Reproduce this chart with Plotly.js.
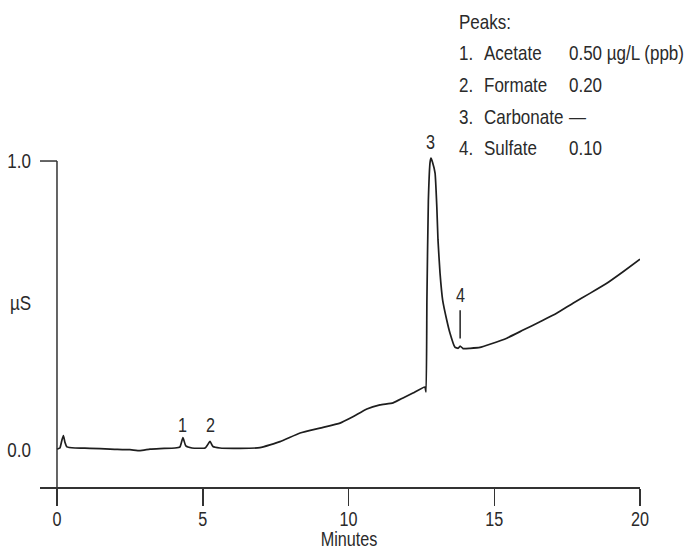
<!DOCTYPE html>
<html><head><meta charset="utf-8">
<script src="https://cdn.plot.ly/plotly-3.0.1.min.js"></script>
<style>html,body{margin:0;padding:0;background:#fff}</style>
</head><body><div id="chart" style="width:695px;height:551px"></div>
<script>
// Chromatogram trace (minutes, µS)
const timeMin = [0, 0.10, 0.17, 0.22, 0.27, 0.34, 0.62, 1.13, 1.82, 2.50, 2.85, 3.19, 3.53, 4.05, 4.22, 4.32, 4.42, 4.63,
  5.08, 5.16, 5.25, 5.35, 5.59, 6.28, 6.96, 7.65, 8.34, 9.02, 9.71, 10.15, 10.63, 11.08, 11.53, 11.87, 12.21, 12.62,
  12.66, 12.69, 12.74, 12.80, 12.83, 12.88, 12.97, 13.03, 13.07, 13.14, 13.23, 13.37, 13.48, 13.65, 13.76, 13.83,
  13.93, 14.17, 14.51, 14.85, 15.43, 15.99, 16.57, 17.14, 17.70, 18.28, 18.86, 19.42, 20.00];
const signalUS = [0.003, 0.007, 0.035, 0.050, 0.028, 0.011, 0.007, 0.006, 0.003, 0.001, -0.002, 0.003, 0.005, 0.007, 0.011, 0.043, 0.014, 0.007,
  0.007, 0.017, 0.030, 0.012, 0.007, 0.006, 0.008, 0.029, 0.059, 0.076, 0.093, 0.115, 0.142, 0.156, 0.163, 0.180, 0.197, 0.218,
  0.201, 0.519, 0.865, 0.997, 1.010, 0.997, 0.958, 0.841, 0.727, 0.612, 0.519, 0.450, 0.405, 0.356, 0.352, 0.360,
  0.351, 0.352, 0.355, 0.366, 0.387, 0.415, 0.444, 0.473, 0.508, 0.542, 0.577, 0.617, 0.660];

const xTickVals = [0, 5, 10, 15, 20];
const yTickVals = [0, 1];
const yTickText = ['0.0', '1.0'];
const xTitle = 'Minutes';
const yTitle = 'µS';

const peakNums = ['1', '2', '3', '4'];
const peakTimes = [4.32, 5.25, 12.83, 13.83];
const peakLabelY = [0.088, 0.085, 1.065, 0.535];
const legendTitle = 'Peaks:';
const legendNames = ['Acetate', 'Formate', 'Carbonate', 'Sulfate'];
const legendAmounts = ['0.50 µg/L (ppb)', '0.20', '—', '0.10'];

const W = 695, H = 551, ML = 40, MR = 55, MT = 20, MB = 64;
const PW = W - ML - MR, PH = H - MT - MB;
const px = x => (x - ML) / PW;
const py = y => (H - MB - y) / PH;

const FONT = 'Liberation Sans, Arial, sans-serif';
const TXT = '#2a2a2a';
const FS = 21;
const XR = [-0.583, 20];
const YR = [-0.128, 1.488];
const NARROW = 0.81;

const annotations = [];
peakNums.forEach((n, i) => annotations.push({
  text: n, x: peakTimes[i], y: peakLabelY[i], xref: 'x', yref: 'y',
  showarrow: false, xanchor: 'center', yanchor: 'middle', font: {family: FONT, size: 20, color: TXT}
}));
const leftText = (text, x, y, size) => ({text: text, xref: 'paper', yref: 'paper', x: x, y: y, xanchor: 'left', yanchor: 'middle',
  align: 'left', showarrow: false, font: {family: FONT, size: size, color: TXT}});
annotations.push(leftText(yTitle, px(8), py(302), FS));
annotations.push({text: xTitle, xref: 'x', yref: 'paper', x: xTickVals[2], y: py(551), xanchor: 'center', yanchor: 'bottom',
  borderpad: 0, showarrow: false, font: {family: FONT, size: 20, color: TXT}});
const rowY = [21, 52.5, 84.5, 116, 147.5];
annotations.push(leftText(legendTitle, px(457), py(rowY[0]), FS));
legendNames.forEach((nm, i) => {
  const yy = py(rowY[i + 1]);
  annotations.push(leftText(peakNums[i] + '.', px(457), yy, FS));
  annotations.push(leftText(nm, px(482), yy, FS));
  annotations.push(leftText(legendAmounts[i], px(567), yy, FS));
});

const shapes = [
  {type: 'line', xref: 'x', yref: 'y', x0: 0, x1: 0, y0: YR[0], y1: yTickVals[1], line: {color: '#333', width: 1.5}},
  {type: 'line', xref: 'x', yref: 'y', x0: XR[0], x1: 0, y0: yTickVals[1], y1: yTickVals[1], line: {color: '#333', width: 1.5}},
  {type: 'line', xref: 'x', yref: 'y', x0: peakTimes[3], x1: peakTimes[3], y0: 0.386, y1: 0.484, line: {color: '#222', width: 1.5}}
];

Plotly.newPlot('chart', [{
  x: timeMin, y: signalUS, type: 'scatter', mode: 'lines',
  line: {color: '#1e1e1e', width: 1.7, shape: 'spline', smoothing: 0.4}, hoverinfo: 'skip'
}], {
  width: W, height: H, margin: {l: ML, r: MR, t: MT, b: MB},
  paper_bgcolor: '#fff', plot_bgcolor: '#fff', showlegend: false,
  xaxis: {range: XR, tickvals: xTickVals, ticktext: xTickVals.map(String), ticks: 'outside', ticklen: 17, tickwidth: 1.5,
    tickcolor: '#333', showline: true, linecolor: '#333', linewidth: 1.5, showgrid: false, zeroline: false,
    ticklabelstandoff: -3, tickfont: {family: FONT, size: 20, color: TXT}},
  yaxis: {range: YR, tickvals: yTickVals, ticktext: yTickText, ticks: '', showline: false, showgrid: false, zeroline: false,
    ticklabelstandoff: 8, tickfont: {family: FONT, size: FS, color: TXT}},
  annotations: annotations, shapes: shapes
}, {staticPlot: true}).then(gd => {
  // condensed lettering like the original (horizontal squeeze around each text's anchor)
  gd.querySelectorAll('svg text').forEach(t => {
    if (!t.textContent) return;
    const b = t.getBBox();
    const a = t.getAttribute('text-anchor') || 'start';
    const ax = a === 'end' ? b.x + b.width : (a === 'middle' ? b.x + b.width / 2 : b.x);
    const prev = t.getAttribute('transform') || '';
    t.setAttribute('transform', prev + ' translate(' + ax + ',0) scale(' + NARROW + ',1) translate(' + (-ax) + ',0)');
  });
});
</script></body></html>
